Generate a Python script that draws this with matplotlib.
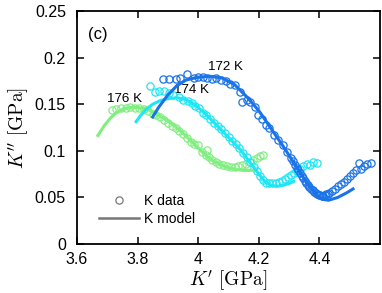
import matplotlib
matplotlib.use("Agg")
import matplotlib.pyplot as plt
from matplotlib.lines import Line2D

# ---- data (K' , K'' in GPa) ----
k172_data_x = [3.884, 3.905, 3.925, 3.940, 3.962, 3.985, 4.000, 4.015, 4.030, 4.045,
               4.060, 4.075, 4.090, 4.105, 4.122, 4.139, 4.145, 4.160, 4.172, 4.188,
               4.198, 4.210, 4.222, 4.235, 4.250, 4.264, 4.280, 4.294, 4.305, 4.312,
               4.318, 4.325, 4.330, 4.337, 4.342, 4.347, 4.352, 4.357, 4.362, 4.367,
               4.372, 4.377, 4.382, 4.387, 4.392, 4.397, 4.402, 4.407, 4.412, 4.417,
               4.422, 4.427, 4.432, 4.442, 4.452, 4.462, 4.472, 4.482, 4.492, 4.502,
               4.512, 4.522, 4.530, 4.538, 4.548, 4.558, 4.570]
k172_data_y = [0.177, 0.177, 0.177, 0.178, 0.182, 0.178, 0.179, 0.179, 0.178, 0.177,
               0.178, 0.176, 0.175, 0.172, 0.171, 0.163, 0.152, 0.155, 0.152, 0.147,
               0.138, 0.134, 0.128, 0.124, 0.117, 0.112, 0.106, 0.099, 0.092, 0.089,
               0.085, 0.082, 0.079, 0.076, 0.073, 0.071, 0.068, 0.066, 0.063, 0.061,
               0.059, 0.058, 0.056, 0.055, 0.054, 0.053, 0.053, 0.052, 0.052, 0.053,
               0.054, 0.054, 0.055, 0.057, 0.059, 0.062, 0.064, 0.067, 0.070, 0.073,
               0.076, 0.079, 0.087, 0.081, 0.084, 0.086, 0.087]
k172_model_x = [3.847, 3.870, 3.900, 3.930, 3.960, 4.000, 4.040, 4.080, 4.120, 4.160,
                4.200, 4.240, 4.280, 4.320, 4.360, 4.390, 4.410, 4.430, 4.460, 4.490,
                4.515]
k172_model_y = [0.135, 0.147, 0.160, 0.170, 0.176, 0.179, 0.180, 0.178, 0.171, 0.158,
                0.143, 0.124, 0.105, 0.085, 0.065, 0.053, 0.048, 0.047, 0.050, 0.055,
                0.060]

k174_data_x = [3.841, 3.856, 3.872, 3.888, 3.902, 3.918, 3.935, 3.950, 3.965, 3.978,
               3.990, 4.002, 4.015, 4.027, 4.040, 4.052, 4.064, 4.076, 4.088, 4.100,
               4.112, 4.124, 4.136, 4.148, 4.160, 4.172, 4.184, 4.195, 4.205, 4.215,
               4.225, 4.235, 4.245, 4.255, 4.265, 4.275, 4.285, 4.295, 4.305, 4.315,
               4.325, 4.337, 4.347, 4.358, 4.370, 4.380, 4.392]
k174_data_y = [0.170, 0.163, 0.164, 0.164, 0.162, 0.160, 0.158, 0.155, 0.153, 0.151,
               0.148, 0.146, 0.141, 0.138, 0.134, 0.130, 0.127, 0.123, 0.119, 0.115,
               0.111, 0.107, 0.103, 0.098, 0.093, 0.088, 0.083, 0.078, 0.073, 0.069,
               0.066, 0.065, 0.065, 0.066, 0.067, 0.068, 0.070, 0.072, 0.074, 0.076,
               0.078, 0.081, 0.084, 0.086, 0.085, 0.088, 0.087]
k174_model_x = [3.792, 3.810, 3.830, 3.850, 3.875, 3.900, 3.930, 3.960, 3.990, 4.020,
                4.050, 4.080, 4.110, 4.140, 4.170, 4.200, 4.220, 4.240, 4.260, 4.280,
                4.300, 4.320]
k174_model_y = [0.130, 0.138, 0.145, 0.150, 0.154, 0.156, 0.157, 0.155, 0.149, 0.141,
                0.131, 0.121, 0.111, 0.101, 0.088, 0.075, 0.067, 0.063, 0.062, 0.063,
                0.065, 0.068]

k176_data_x = [3.716, 3.730, 3.745, 3.760, 3.775, 3.790, 3.805, 3.820, 3.835, 3.850,
               3.862, 3.875, 3.888, 3.900, 3.912, 3.925, 3.937, 3.950, 3.962, 3.975,
               3.987, 4.000, 4.012, 4.025, 4.030, 4.035, 4.047, 4.058, 4.070, 4.082,
               4.095, 4.108, 4.120, 4.132, 4.145, 4.158, 4.170, 4.182, 4.195, 4.205,
               4.215]
k176_data_y = [0.144, 0.145, 0.146, 0.146, 0.147, 0.146, 0.146, 0.145, 0.143, 0.140,
               0.138, 0.136, 0.133, 0.130, 0.127, 0.125, 0.121, 0.118, 0.114, 0.110,
               0.107, 0.106, 0.099, 0.095, 0.101, 0.093, 0.090, 0.088, 0.086, 0.085,
               0.084, 0.083, 0.083, 0.084, 0.085, 0.086, 0.088, 0.090, 0.092, 0.094,
               0.095]
k176_model_x = [3.666, 3.690, 3.710, 3.730, 3.755, 3.785, 3.810, 3.830, 3.855, 3.875,
                3.900, 3.925, 3.950, 3.975, 4.000, 4.025, 4.050, 4.075, 4.100, 4.125,
                4.150, 4.175, 4.190]
k176_model_y = [0.115, 0.127, 0.135, 0.141, 0.145, 0.147, 0.146, 0.145, 0.141, 0.137,
                0.132, 0.126, 0.119, 0.111, 0.103, 0.095, 0.089, 0.085, 0.082, 0.080,
                0.079, 0.079, 0.080]

series = [
    ("176 K", k176_data_x, k176_data_y, k176_model_x, k176_model_y, "#80ee80", (3.757, 0.1556)),
    ("174 K", k174_data_x, k174_data_y, k174_model_x, k174_model_y, "#1ee6f5", (3.977, 0.165)),
    ("172 K", k172_data_x, k172_data_y, k172_model_x, k172_model_y, "#1a73e8", (4.089, 0.190)),
]

plt.rcParams["font.family"] = ["Liberation Sans", "DejaVu Sans"]
plt.rcParams["mathtext.fontset"] = "cm"

fig = plt.figure(figsize=(3.82, 2.93), dpi=100)
ax = fig.add_axes([0.2016, 0.167, 0.7934, 0.7955])

for label, dx, dy, mx, my, color, (tx, ty) in series:
    ax.plot(dx, dy, linestyle="none", marker="o", markersize=5.2,
            markerfacecolor="none", markeredgecolor=color, markeredgewidth=0.9)
    ax.text(tx, ty, label, fontsize=9.6, ha="center", va="center", zorder=1)
    ax.plot(mx, my, color=color, linewidth=2.2, solid_capstyle="butt", zorder=3)

ax.text(3.669, 0.225, "(c)", fontsize=12, ha="center", va="center")

ax.set_xlim(3.6, 4.6)
ax.set_ylim(0, 0.25)
ax.set_xticks([3.6, 3.8, 4.0, 4.2, 4.4])
ax.set_xticklabels(["3.6", "3.8", "4", "4.2", "4.4"])
ax.set_yticks([0, 0.05, 0.1, 0.15, 0.2, 0.25])
ax.set_yticklabels(["0", "0.05", "0.1", "0.15", "0.2", "0.25"])
ax.tick_params(direction="in", length=5, width=1.1, labelsize=11.5,
               top=True, right=True)
ax.tick_params(axis="x", pad=6)
ax.tick_params(axis="y", pad=8)
for sp in ax.spines.values():
    sp.set_linewidth(1.3)

ax.set_xlabel(r"$K'\ [\mathrm{GPa}]$", fontsize=14, labelpad=1)
ax.set_ylabel(r"$K''\ [\mathrm{GPa}]$", fontsize=14, labelpad=3)

handles = [
    Line2D([], [], linestyle="none", marker="o", markersize=5.2,
           markerfacecolor="none", markeredgecolor="#777777", markeredgewidth=0.9),
    Line2D([], [], color="#777777", linewidth=1.8),
]
ax.legend(handles, ["K data", "K model"], loc="upper left",
          bbox_to_anchor=(0.073, 0.215), frameon=False, fontsize=10,
          handlelength=2.9, handletextpad=0.35, labelspacing=0.3,
          borderpad=0, borderaxespad=0)

fig.savefig("out.png", dpi=100)
